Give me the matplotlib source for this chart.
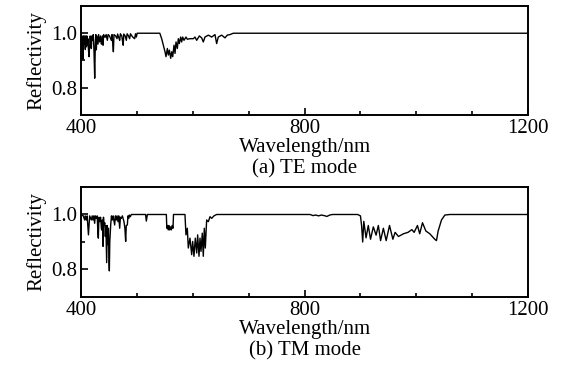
import numpy as np
import matplotlib.pyplot as plt
from matplotlib.ticker import MultipleLocator, FixedLocator

plt.rcParams['font.family'] = ['Liberation Serif', 'DejaVu Serif']
plt.rcParams['font.size'] = 15

# TE mode (a): wavelength (nm) and reflectivity
te_wl = [400, 400.5, 401, 402, 403, 403.6, 404.5, 405.5, 406.5, 407.7, 408.5, 409.5,
         410.5, 411.3, 412.2, 413, 414.3, 415.5, 416.5, 417.5, 418.5, 419.5, 421, 422,
         423.3, 424.5, 425.6, 426.5, 427.4, 428.5, 430.4, 431.5, 433.4, 435, 436.5,
         437.6, 438.5, 439.4, 440.5, 443, 445, 447.1, 448.5, 451, 454.3, 455.5, 457.3,
         457.9, 459, 462, 464.4, 465.5, 467.5, 469.2, 470.5, 473, 474.5, 475.5, 476.5,
         479, 481.1, 482.5, 485, 487, 488.5, 491, 493, 496, 497.5, 499, 500.5, 541,
         544.3, 547.3, 550.3, 552.1, 554.5, 556.3, 558.1, 560.5, 562.3, 564.1, 566.4,
         568.2, 570, 572.3, 574.1, 575.9, 578.3, 580.1, 581.9, 584.3, 587.8, 590.2,
         595, 601, 603.9, 607, 611.7, 615.9, 618.8, 621.8, 627.8, 633.8, 639.7, 642.7,
         645.6, 651.6, 657.6, 661.7, 666.5, 672.5, 1200]
te_r = [1.0, 0.93, 0.91, 0.99, 0.95, 0.905, 0.99, 0.96, 0.99, 0.94, 0.99, 0.95,
        0.99, 0.955, 0.98, 0.95, 0.914, 0.955, 0.99, 0.96, 0.944, 0.99, 0.975, 0.995,
        0.93, 0.835, 0.96, 0.995, 0.939, 0.99, 0.96, 0.995, 0.968, 0.99, 0.96,
        0.972, 0.99, 0.956, 0.995, 0.985, 0.995, 0.974, 0.995, 0.99, 0.974, 0.995, 0.95,
        0.932, 0.995, 0.99, 0.98, 0.997, 0.985, 0.974, 0.998, 0.99, 0.968, 0.956, 0.997,
        0.99, 0.974, 0.998, 0.99, 0.98, 0.998, 0.99, 0.985, 0.98, 0.998, 0.986, 1.0, 1.0,
        0.98, 0.956, 0.932, 0.914, 0.944, 0.92, 0.938, 0.908, 0.932, 0.914, 0.956,
        0.926, 0.968, 0.944, 0.98, 0.962, 0.986, 0.968, 0.986, 0.974, 0.986, 0.978,
        0.98, 0.98, 0.986, 0.974, 0.99, 0.983, 0.968, 0.986, 0.993, 0.986, 0.995, 0.962,
        0.986, 0.993, 0.983, 0.993, 0.995, 1.0, 1.0]

# TM mode (b)
tm_wl = [400, 404, 406.6, 407.5, 409.5, 411, 412.5, 413.3, 414.3, 415.5, 418.5, 420,
         421.5, 423, 424.4, 425.5, 427.4, 429, 430.3, 431, 432, 433.4, 435, 436.4,
         436.9, 438, 439, 439.4, 440.2, 441.1, 442.5, 443.5, 444.5, 445.4, 445.9, 447,
         448.3, 449, 450.2, 450.7, 451.5, 453.1, 454.5, 456.1, 457.5, 460.2, 461.5,
         463.2, 464.5, 466.2, 467.5, 469.2, 470.5, 472.2, 474, 476.9, 478.5, 479.9, 481,
         482.9, 484, 485.3, 486.5, 488.3, 490, 515.5, 516.9, 518.7, 552.7, 553.5, 555,
         556, 557.5, 558.6, 560, 561.6, 563, 564.6, 565.5, 586, 587.8, 590.2, 592, 595,
         598, 599.8, 602.1, 604.5, 607, 608.7, 611.1, 612.9, 614.7, 617, 618.8, 620.6,
         622.4, 624.8, 627.8, 630.8, 633.8, 637.9, 642.7, 810, 815, 820, 825, 830, 835,
         840, 845, 850, 895, 900, 902, 904, 906, 910, 914, 918, 923, 928, 932, 936, 941,
         946, 952, 958, 962, 968, 977, 985, 992, 996, 1002, 1006, 1011, 1017, 1024,
         1033, 1036, 1039, 1045, 1051, 1060, 1200]
tm_r = [1.0, 0.995, 0.98, 0.995, 0.98, 0.995, 0.95, 0.926, 0.96, 0.995, 0.98, 0.995,
        0.98, 0.995, 0.968, 0.995, 0.986, 0.995, 0.93, 0.914, 0.99, 0.974, 0.99, 0.95,
        0.944, 0.98, 0.92, 0.884, 0.99, 0.962, 0.97, 0.92, 0.96, 0.86, 0.825, 0.96,
        0.89, 0.95, 0.82, 0.795, 0.9, 0.962, 0.995, 0.98, 0.995, 0.962, 0.995,
        0.98, 0.995, 0.974, 0.995, 0.95, 0.99, 0.986, 0.995, 0.974, 0.95, 0.902, 0.96,
        0.962, 0.995, 0.986, 0.998, 0.992, 1.0, 1.0, 0.976, 1.0, 1.0, 0.95, 0.96,
        0.944, 0.96, 0.944, 0.955, 0.944, 0.96, 0.95, 1.0, 1.0, 0.926, 0.95, 0.878, 0.914,
        0.854, 0.902, 0.848, 0.914, 0.86, 0.926, 0.848, 0.914, 0.866, 0.932, 0.848, 0.95,
        0.878, 0.98, 0.974, 0.992, 0.986, 0.995, 1.0, 1.0, 0.996, 0.998, 0.995, 0.998, 0.996,
        0.993, 0.998, 1.0, 1.0, 0.995, 0.96, 0.90, 0.975, 0.915, 0.96, 0.91, 0.955, 0.925, 0.96, 0.905, 0.95,
        0.905, 0.96, 0.91, 0.935, 0.92, 0.93, 0.935, 0.945, 0.935, 0.96, 0.93, 0.97, 0.94, 0.93,
        0.91, 0.905, 0.94, 0.98, 0.998, 1.0, 1.0]

panels = [(te_wl, te_r, '(a) TE mode'), (tm_wl, tm_r, '(b) TM mode')]
xticks = [400, 800, 1200]
yticks = [0.8, 1.0]

fig = plt.figure(figsize=(5.61, 3.65), dpi=100)
boxes = [[0.1444, 0.685, 0.797, 0.2986], [0.1444, 0.1863, 0.797, 0.3014]]

for box, (wl, r, caption) in zip(boxes, panels):
    ax = fig.add_axes(box)
    ax.plot(wl, r, color='black', lw=1.0)
    ax.set_xlim(400, 1200)
    ax.set_ylim(0.7, 1.1)
    ax.xaxis.set_major_locator(FixedLocator(xticks))
    ax.xaxis.set_minor_locator(MultipleLocator(100))
    ax.yaxis.set_major_locator(FixedLocator(yticks))
    ax.yaxis.set_minor_locator(FixedLocator([0.9]))
    ax.set_yticklabels(['0.8', '1.0'])
    ax.tick_params(which='both', direction='in', top=False, right=False, width=1.2)
    ax.tick_params(which='major', length=5, pad=3)
    ax.tick_params(which='minor', length=3)
    for s in ax.spines.values():
        s.set_linewidth(1.4)
    ax.set_ylabel('Reflectivity', labelpad=3)
    ax.set_xlabel('Wavelength/nm', labelpad=0)
    ax.text(0.5, -0.49, caption, transform=ax.transAxes, ha='center', va='center')

fig.savefig('out.png', dpi=100)
